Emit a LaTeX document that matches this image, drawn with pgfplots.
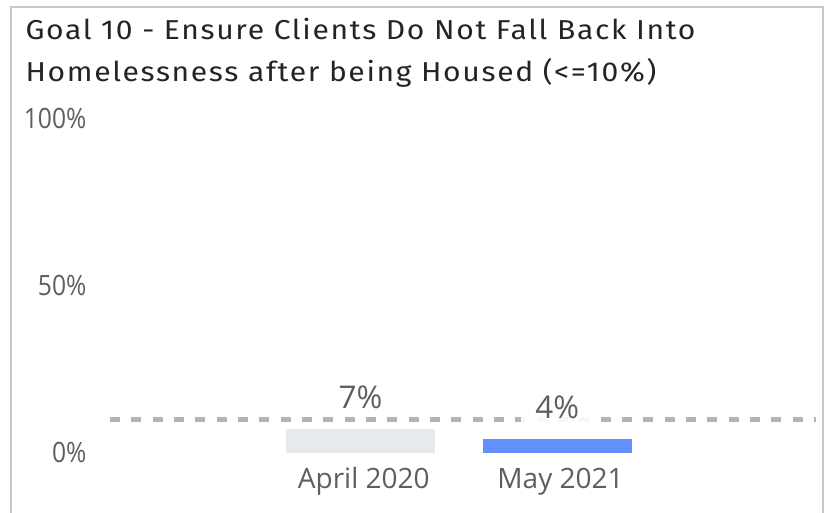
\documentclass[border=0pt]{standalone}
\usepackage{fontspec}
\usepackage{pgfplots}
\pgfplotsset{compat=1.18}
\setmainfont{Open Sans}
\newfontfamily\titlefont[FakeStretch=1.1, LetterSpace=6]{Fira Sans}
\newfontfamily\bodyfont{Open Sans}
\newfontfamily\tickfont[FakeStretch=0.88]{Open Sans}
\definecolor{titlecol}{HTML}{252423}
\definecolor{labelcol}{HTML}{605E5C}
\definecolor{framecol}{HTML}{C8C8C8}
\definecolor{targetcol}{HTML}{B3B3B3}
\definecolor{aprilcol}{HTML}{E6EAED}
\definecolor{maycol}{HTML}{638FFF}
\pgfplotsset{
  barlabel/.style={
    nodes near coords={\pgfmathprintnumber[fixed,precision=0,assume math mode=true]{\pgfplotspointmeta}\%},
    nodes near coords style={font=\bodyfont\fontsize{23.5pt}{27pt}\selectfont, text=labelcol, anchor=south,
      inner xsep=11pt, inner ysep=3pt, text depth=0pt, fill=white, fill opacity=0.9, text opacity=1, yshift=12.4pt}},
}
\begin{document}
\begin{tikzpicture}
% 1 px of the reference = 0.75pt
\path[use as bounding box, clip] (0,0) rectangle (624.75pt,384pt);
\draw[framecol, line width=1.5pt] (8.25pt,-10pt) -- (8.25pt,378.75pt) -- (617.25pt,378.75pt) -- (617.25pt,-10pt);
\node[anchor=base west, inner sep=0pt, text=titlecol, font=\titlefont\fontsize{20.5pt}{24pt}\selectfont] at (19pt,354pt) {Goal 10 - Ensure Clients Do Not Fall Back Into};
\node[anchor=base west, inner sep=0pt, text=titlecol, font=\titlefont\fontsize{20.5pt}{24pt}\selectfont] at (19pt,323.25pt) {Homelessness after being Housed (<=10\%)};
\begin{axis}[
  at={(82.5pt,44.475pt)}, anchor=south west,
  scale only axis, width=529.5pt, height=250.5pt,
  xmin=-1.273, xmax=2.315, ymin=0, ymax=100,
  clip=false,
  axis line style={draw=none}, major tick length=0pt,
  xtick={0,1}, xticklabels={April 2020, May 2021},
  ytick={0,50,100}, yticklabels={0\%,50\%,100\%},
  xticklabel style={font=\bodyfont\fontsize{21pt}{24pt}\selectfont, text=labelcol,
    anchor=north, inner sep=0pt, text height=15pt, text depth=0pt, yshift=-11.5pt, xshift=2.5pt},
  yticklabel style={font=\tickfont\fontsize{21pt}{24pt}\selectfont, text=labelcol,
    anchor=east, inner sep=0pt, xshift=-17.5pt},
]
% target line at 10%
\addplot[targetcol, line width=3.75pt, dash pattern=on 7.5pt off 8.5pt] coordinates {(-1.273,10) (2.315,10)};
\addplot[ybar, bar width=0.757, draw=none, fill=aprilcol, barlabel] coordinates {(0,7)};
\addplot[ybar, bar width=0.757, draw=none, fill=maycol, barlabel] coordinates {(1,4)};
\end{axis}
\end{tikzpicture}
\end{document}
